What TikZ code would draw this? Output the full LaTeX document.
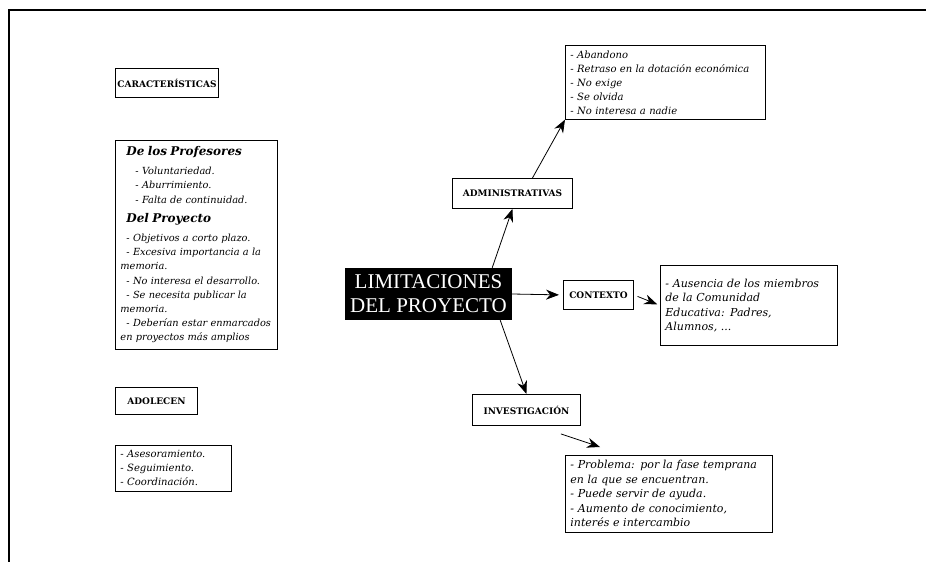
\documentclass[tikz,border=0pt]{standalone}
\usepackage{fontspec}
\setmainfont{DejaVu Serif}
\newfontfamily\titlefont{Liberation Serif}
\usetikzlibrary{arrows.meta,calc}

\begin{document}
\begin{tikzpicture}[x=1pt,y=-1pt,
  box/.style={draw,line width=0.9pt,anchor=north west},
  hdr/.style={box,font=\bfseries\fontsize{9}{10}\selectfont,inner xsep=2pt,minimum height=29pt},
  lst/.style={box,align=left,font=\itshape\fontsize{10}{14}\selectfont,inner xsep=5pt,inner ysep=5pt},
  biglst/.style={lst,font=\itshape\fontsize{11}{14.5}\selectfont},
  title/.style={fill=black,text=white,align=center,font=\titlefont\fontsize{21}{24}\selectfont,
    minimum width=167pt,minimum height=52pt,inner sep=0pt},
  arr/.style={line width=0.8pt,-{Stealth[length=13pt,width=10pt]}}
]
\useasboundingbox (0,0) rectangle (926,562);

% page frame
\draw[line width=1.8pt] (9,562) -- (9,10) -- (926,10);

% left column
\node[hdr,minimum width=101pt] (caract) at (115,68) {CARACTERÍSTICAS};
\node[lst,inner xsep=2pt,inner ysep=6pt,text width=158pt,
      font=\itshape\fontsize{9.8}{14.2}\selectfont] (perfil) at (115,140) {%
  {\bfseries\fontsize{12}{14}\selectfont\hspace*{9pt}De los Profesores}\\[5pt]
  \hspace*{18pt}- Voluntariedad.\\
  \hspace*{18pt}- Aburrimiento.\\
  \hspace*{18pt}- Falta de continuidad.\\[5pt]
  {\bfseries\fontsize{12}{14}\selectfont\hspace*{9pt}Del Proyecto}\\[5pt]
  \hspace*{9pt}- Objetivos a corto plazo.\\
  \hspace*{9pt}- Excesiva importancia a la\\
  \hspace*{3pt}memoria.\\
  \hspace*{9pt}- No interesa el desarrollo.\\
  \hspace*{9pt}- Se necesita publicar la\\
  \hspace*{3pt}memoria.\\
  \hspace*{9pt}- Deberían estar enmarcados\\
  \hspace*{3pt}en proyectos más amplios};

\node[hdr,minimum width=82pt,minimum height=27pt] (adol) at (115,387) {ADOLECEN};
\node[lst,text width=106pt] (adollist) at (115,445) {%
  - Asesoramiento.\\
  - Seguimiento.\\
  - Coordinación.};

% centre
\node[title] (centro) at (428.5,294) {LIMITACIONES\\DEL PROYECTO};

% administrative branch
\node[hdr,minimum width=120pt,minimum height=30pt] (admin) at (452,178) {ADMINISTRATIVAS};
\node[lst,text width=190pt] (adminlist) at (565,45) {%
  - Abandono\\
  - Retraso en la dotación económica\\
  - No exige\\
  - Se olvida\\
  - No interesa a nadie};

% context branch
\node[hdr,minimum width=70pt] (contexto) at (563,280) {CONTEXTO};
\node[biglst,text width=167pt,minimum height=80pt] (contextolist) at (660,265) {%
  - Ausencia de los miembros\\
  de la Comunidad\\
  Educativa: Padres,\\
  Alumnos, ...};

% research branch
\node[hdr,minimum width=108pt,minimum height=31pt] (invest) at (472,394) {INVESTIGACIÓN};
\node[biglst,text width=197pt] (investlist) at (565,455) {%
  - Problema: por la fase temprana\\
  en la que se encuentran.\\
  - Puede servir de ayuda.\\
  - Aumento de conocimiento,\\
  interés e intercambio};

% connectors
\draw[arr] ([xshift=-20pt]centro.north east) -- (admin.south);
\draw[arr] ([xshift=20pt]admin.north) -- (adminlist.south west);
\draw[arr,shorten >=4pt] (centro.east) -- (contexto.west);
\draw[arr,shorten <=4pt,shorten >=3pt] (contexto.east) -- (contextolist.west);
\draw[arr] ([xshift=-12pt]centro.south east) -- (invest.north);
\draw[arr] ([xshift=-20pt,yshift=-8pt]invest.south east) -- ([xshift=35pt,yshift=8pt]investlist.north west);
\end{tikzpicture}
\end{document}
